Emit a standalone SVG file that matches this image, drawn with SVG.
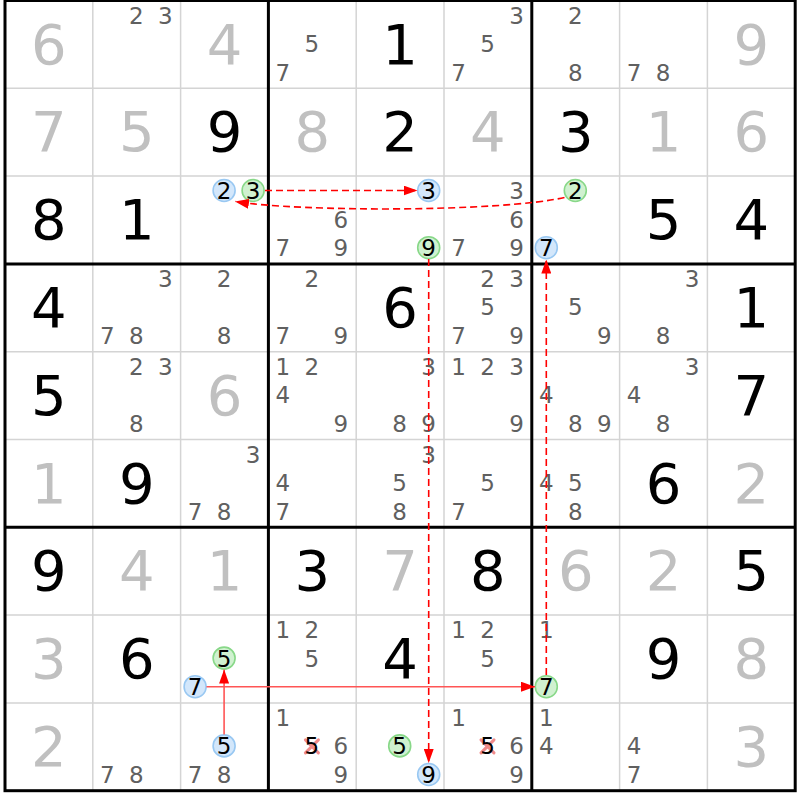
<svg xmlns="http://www.w3.org/2000/svg" width="800" height="800" viewBox="0 0 800 800">
<style>
text{font-family:"DejaVu Sans","Liberation Sans",sans-serif;text-anchor:middle}
.g{font-size:56px;fill:#c0c0c0}
.s{font-size:56px;fill:#000}
.c{font-size:23px;fill:#606060}
.k{font-size:23px;fill:#000}
.hb{fill:#d3e7fb;stroke:#99c8f2;stroke-width:1.6}
.hg{fill:#d0f1d0;stroke:#88d888;stroke-width:1.6}
.thin{stroke:#d4d4d4;stroke-width:1.5}
.thick{stroke:#000;stroke-width:3;fill:none}
.x{stroke:#f08a8a;stroke-width:3;stroke-linecap:round}
.dash{fill:none;stroke:#ff0000;stroke-width:1.6;stroke-dasharray:7 4}
.solid{fill:none;stroke:#ff5555;stroke-width:1.6}
</style>
<defs>
<marker id="ah" viewBox="0 0 14 10" refX="14" refY="5" markerWidth="14" markerHeight="10" markerUnits="userSpaceOnUse" orient="auto"><path d="M0,0 L14,5 L0,10 z" fill="#ff0000"/></marker>
</defs>
<rect x="0" y="0" width="800" height="800" fill="#fff"/>
<g id="grid">
<path class="thin" d="M92.8,0.5V790.7M180.6,0.5V790.7M356.2,0.5V790.7M444,0.5V790.7M619.6,0.5V790.7M707.4,0.5V790.7M5,88.3H795.2M5,176.1H795.2M5,351.7H795.2M5,439.5H795.2M5,615.1H795.2M5,702.9H795.2"/>
<path class="thick" d="M268.4,0.5V790.7M531.8,0.5V790.7M5,263.9H795.2M5,527.3H795.2"/>
<rect class="thick" x="5" y="0.5" width="790.2" height="790.2"/>
</g>
<g id="cells">
<!-- row 0 -->
<g id="r0c0" transform="translate(5,0.5)"><text class="g" x="43.9" y="63">6</text></g>
<g id="r0c1" transform="translate(92.8,0.5)"><text class="c" x="43.5" y="23">2</text><text class="c" x="72.5" y="23">3</text></g>
<g id="r0c2" transform="translate(180.6,0.5)"><text class="g" x="43.9" y="63">4</text></g>
<g id="r0c3" transform="translate(268.4,0.5)"><text class="c" x="43.5" y="51.6">5</text><text class="c" x="14.5" y="80.2">7</text></g>
<g id="r0c4" transform="translate(356.2,0.5)"><text class="s" x="43.9" y="63">1</text></g>
<g id="r0c5" transform="translate(444,0.5)"><text class="c" x="72.5" y="23">3</text><text class="c" x="43.5" y="51.6">5</text><text class="c" x="14.5" y="80.2">7</text></g>
<g id="r0c6" transform="translate(531.8,0.5)"><text class="c" x="43.5" y="23">2</text><text class="c" x="43.5" y="80.2">8</text></g>
<g id="r0c7" transform="translate(619.6,0.5)"><text class="c" x="14.5" y="80.2">7</text><text class="c" x="43.5" y="80.2">8</text></g>
<g id="r0c8" transform="translate(707.4,0.5)"><text class="g" x="43.9" y="63">9</text></g>
<!-- row 1 -->
<g id="r1c0" transform="translate(5,88.3)"><text class="g" x="43.9" y="63">7</text></g>
<g id="r1c1" transform="translate(92.8,88.3)"><text class="g" x="43.9" y="63">5</text></g>
<g id="r1c2" transform="translate(180.6,88.3)"><text class="s" x="43.9" y="63">9</text></g>
<g id="r1c3" transform="translate(268.4,88.3)"><text class="g" x="43.9" y="63">8</text></g>
<g id="r1c4" transform="translate(356.2,88.3)"><text class="s" x="43.9" y="63">2</text></g>
<g id="r1c5" transform="translate(444,88.3)"><text class="g" x="43.9" y="63">4</text></g>
<g id="r1c6" transform="translate(531.8,88.3)"><text class="s" x="43.9" y="63">3</text></g>
<g id="r1c7" transform="translate(619.6,88.3)"><text class="g" x="43.9" y="63">1</text></g>
<g id="r1c8" transform="translate(707.4,88.3)"><text class="g" x="43.9" y="63">6</text></g>
<!-- row 2 -->
<g id="r2c0" transform="translate(5,176.1)"><text class="s" x="43.9" y="63">8</text></g>
<g id="r2c1" transform="translate(92.8,176.1)"><text class="s" x="43.9" y="63">1</text></g>
<g id="r2c2" transform="translate(180.6,176.1)"><circle class="hb" cx="43.5" cy="14.4" r="11"/><text class="k" x="43.5" y="23">2</text><circle class="hg" cx="72.5" cy="14.4" r="11"/><text class="k" x="72.5" y="23">3</text></g>
<g id="r2c3" transform="translate(268.4,176.1)"><text class="c" x="72.5" y="51.6">6</text><text class="c" x="14.5" y="80.2">7</text><text class="c" x="72.5" y="80.2">9</text></g>
<g id="r2c4" transform="translate(356.2,176.1)"><circle class="hb" cx="72.5" cy="14.4" r="11"/><text class="k" x="72.5" y="23">3</text><circle class="hg" cx="72.5" cy="71.6" r="11"/><text class="k" x="72.5" y="80.2">9</text></g>
<g id="r2c5" transform="translate(444,176.1)"><text class="c" x="72.5" y="23">3</text><text class="c" x="72.5" y="51.6">6</text><text class="c" x="14.5" y="80.2">7</text><text class="c" x="72.5" y="80.2">9</text></g>
<g id="r2c6" transform="translate(531.8,176.1)"><circle class="hg" cx="43.5" cy="14.4" r="11"/><text class="k" x="43.5" y="23">2</text><circle class="hb" cx="14.5" cy="71.6" r="11"/><text class="k" x="14.5" y="80.2">7</text></g>
<g id="r2c7" transform="translate(619.6,176.1)"><text class="s" x="43.9" y="63">5</text></g>
<g id="r2c8" transform="translate(707.4,176.1)"><text class="s" x="43.9" y="63">4</text></g>
<!-- row 3 -->
<g id="r3c0" transform="translate(5,263.9)"><text class="s" x="43.9" y="63">4</text></g>
<g id="r3c1" transform="translate(92.8,263.9)"><text class="c" x="72.5" y="23">3</text><text class="c" x="14.5" y="80.2">7</text><text class="c" x="43.5" y="80.2">8</text></g>
<g id="r3c2" transform="translate(180.6,263.9)"><text class="c" x="43.5" y="23">2</text><text class="c" x="43.5" y="80.2">8</text></g>
<g id="r3c3" transform="translate(268.4,263.9)"><text class="c" x="43.5" y="23">2</text><text class="c" x="14.5" y="80.2">7</text><text class="c" x="72.5" y="80.2">9</text></g>
<g id="r3c4" transform="translate(356.2,263.9)"><text class="s" x="43.9" y="63">6</text></g>
<g id="r3c5" transform="translate(444,263.9)"><text class="c" x="43.5" y="23">2</text><text class="c" x="72.5" y="23">3</text><text class="c" x="43.5" y="51.6">5</text><text class="c" x="14.5" y="80.2">7</text><text class="c" x="72.5" y="80.2">9</text></g>
<g id="r3c6" transform="translate(531.8,263.9)"><text class="c" x="43.5" y="51.6">5</text><text class="c" x="72.5" y="80.2">9</text></g>
<g id="r3c7" transform="translate(619.6,263.9)"><text class="c" x="72.5" y="23">3</text><text class="c" x="43.5" y="80.2">8</text></g>
<g id="r3c8" transform="translate(707.4,263.9)"><text class="s" x="43.9" y="63">1</text></g>
<!-- row 4 -->
<g id="r4c0" transform="translate(5,351.7)"><text class="s" x="43.9" y="63">5</text></g>
<g id="r4c1" transform="translate(92.8,351.7)"><text class="c" x="43.5" y="23">2</text><text class="c" x="72.5" y="23">3</text><text class="c" x="43.5" y="80.2">8</text></g>
<g id="r4c2" transform="translate(180.6,351.7)"><text class="g" x="43.9" y="63">6</text></g>
<g id="r4c3" transform="translate(268.4,351.7)"><text class="c" x="14.5" y="23">1</text><text class="c" x="43.5" y="23">2</text><text class="c" x="14.5" y="51.6">4</text><text class="c" x="72.5" y="80.2">9</text></g>
<g id="r4c4" transform="translate(356.2,351.7)"><text class="c" x="72.5" y="23">3</text><text class="c" x="43.5" y="80.2">8</text><text class="c" x="72.5" y="80.2">9</text></g>
<g id="r4c5" transform="translate(444,351.7)"><text class="c" x="14.5" y="23">1</text><text class="c" x="43.5" y="23">2</text><text class="c" x="72.5" y="23">3</text><text class="c" x="72.5" y="80.2">9</text></g>
<g id="r4c6" transform="translate(531.8,351.7)"><text class="c" x="14.5" y="51.6">4</text><text class="c" x="43.5" y="80.2">8</text><text class="c" x="72.5" y="80.2">9</text></g>
<g id="r4c7" transform="translate(619.6,351.7)"><text class="c" x="72.5" y="23">3</text><text class="c" x="14.5" y="51.6">4</text><text class="c" x="43.5" y="80.2">8</text></g>
<g id="r4c8" transform="translate(707.4,351.7)"><text class="s" x="43.9" y="63">7</text></g>
<!-- row 5 -->
<g id="r5c0" transform="translate(5,439.5)"><text class="g" x="43.9" y="63">1</text></g>
<g id="r5c1" transform="translate(92.8,439.5)"><text class="s" x="43.9" y="63">9</text></g>
<g id="r5c2" transform="translate(180.6,439.5)"><text class="c" x="72.5" y="23">3</text><text class="c" x="14.5" y="80.2">7</text><text class="c" x="43.5" y="80.2">8</text></g>
<g id="r5c3" transform="translate(268.4,439.5)"><text class="c" x="14.5" y="51.6">4</text><text class="c" x="14.5" y="80.2">7</text></g>
<g id="r5c4" transform="translate(356.2,439.5)"><text class="c" x="72.5" y="23">3</text><text class="c" x="43.5" y="51.6">5</text><text class="c" x="43.5" y="80.2">8</text></g>
<g id="r5c5" transform="translate(444,439.5)"><text class="c" x="43.5" y="51.6">5</text><text class="c" x="14.5" y="80.2">7</text></g>
<g id="r5c6" transform="translate(531.8,439.5)"><text class="c" x="14.5" y="51.6">4</text><text class="c" x="43.5" y="51.6">5</text><text class="c" x="43.5" y="80.2">8</text></g>
<g id="r5c7" transform="translate(619.6,439.5)"><text class="s" x="43.9" y="63">6</text></g>
<g id="r5c8" transform="translate(707.4,439.5)"><text class="g" x="43.9" y="63">2</text></g>
<!-- row 6 -->
<g id="r6c0" transform="translate(5,527.3)"><text class="s" x="43.9" y="63">9</text></g>
<g id="r6c1" transform="translate(92.8,527.3)"><text class="g" x="43.9" y="63">4</text></g>
<g id="r6c2" transform="translate(180.6,527.3)"><text class="g" x="43.9" y="63">1</text></g>
<g id="r6c3" transform="translate(268.4,527.3)"><text class="s" x="43.9" y="63">3</text></g>
<g id="r6c4" transform="translate(356.2,527.3)"><text class="g" x="43.9" y="63">7</text></g>
<g id="r6c5" transform="translate(444,527.3)"><text class="s" x="43.9" y="63">8</text></g>
<g id="r6c6" transform="translate(531.8,527.3)"><text class="g" x="43.9" y="63">6</text></g>
<g id="r6c7" transform="translate(619.6,527.3)"><text class="g" x="43.9" y="63">2</text></g>
<g id="r6c8" transform="translate(707.4,527.3)"><text class="s" x="43.9" y="63">5</text></g>
<!-- row 7 -->
<g id="r7c0" transform="translate(5,615.1)"><text class="g" x="43.9" y="63">3</text></g>
<g id="r7c1" transform="translate(92.8,615.1)"><text class="s" x="43.9" y="63">6</text></g>
<g id="r7c2" transform="translate(180.6,615.1)"><circle class="hg" cx="43.5" cy="43" r="11"/><text class="k" x="43.5" y="51.6">5</text><circle class="hb" cx="14.5" cy="71.6" r="11"/><text class="k" x="14.5" y="80.2">7</text></g>
<g id="r7c3" transform="translate(268.4,615.1)"><text class="c" x="14.5" y="23">1</text><text class="c" x="43.5" y="23">2</text><text class="c" x="43.5" y="51.6">5</text></g>
<g id="r7c4" transform="translate(356.2,615.1)"><text class="s" x="43.9" y="63">4</text></g>
<g id="r7c5" transform="translate(444,615.1)"><text class="c" x="14.5" y="23">1</text><text class="c" x="43.5" y="23">2</text><text class="c" x="43.5" y="51.6">5</text></g>
<g id="r7c6" transform="translate(531.8,615.1)"><text class="c" x="14.5" y="23">1</text><circle class="hg" cx="14.5" cy="71.6" r="11"/><text class="k" x="14.5" y="80.2">7</text></g>
<g id="r7c7" transform="translate(619.6,615.1)"><text class="s" x="43.9" y="63">9</text></g>
<g id="r7c8" transform="translate(707.4,615.1)"><text class="g" x="43.9" y="63">8</text></g>
<!-- row 8 -->
<g id="r8c0" transform="translate(5,702.9)"><text class="g" x="43.9" y="63">2</text></g>
<g id="r8c1" transform="translate(92.8,702.9)"><text class="c" x="14.5" y="80.2">7</text><text class="c" x="43.5" y="80.2">8</text></g>
<g id="r8c2" transform="translate(180.6,702.9)"><circle class="hb" cx="43.5" cy="43" r="11"/><text class="k" x="43.5" y="51.6">5</text><text class="c" x="14.5" y="80.2">7</text><text class="c" x="43.5" y="80.2">8</text></g>
<g id="r8c3" transform="translate(268.4,702.9)"><text class="c" x="14.5" y="23">1</text><path class="x" d="M37,37L50,50M50,37L37,50"/><text class="k" x="43.5" y="51.6">5</text><text class="c" x="72.5" y="51.6">6</text><text class="c" x="72.5" y="80.2">9</text></g>
<g id="r8c4" transform="translate(356.2,702.9)"><circle class="hg" cx="43.5" cy="43" r="11"/><text class="k" x="43.5" y="51.6">5</text><circle class="hb" cx="72.5" cy="71.6" r="11"/><text class="k" x="72.5" y="80.2">9</text></g>
<g id="r8c5" transform="translate(444,702.9)"><text class="c" x="14.5" y="23">1</text><path class="x" d="M37,37L50,50M50,37L37,50"/><text class="k" x="43.5" y="51.6">5</text><text class="c" x="72.5" y="51.6">6</text><text class="c" x="72.5" y="80.2">9</text></g>
<g id="r8c6" transform="translate(531.8,702.9)"><text class="c" x="14.5" y="23">1</text><text class="c" x="14.5" y="51.6">4</text></g>
<g id="r8c7" transform="translate(619.6,702.9)"><text class="c" x="14.5" y="51.6">4</text><text class="c" x="14.5" y="80.2">7</text></g>
<g id="r8c8" transform="translate(707.4,702.9)"><text class="g" x="43.9" y="63">3</text></g>
</g>
<g id="connectors">
<path class="dash" d="M265,190.5H417.5" marker-end="url(#ah)"/>
<path class="dash" d="M564.5,197.5C500,212 300,212 235,201.5" marker-end="url(#ah)"/>
<path class="dash" d="M428.7,259V763" marker-end="url(#ah)"/>
<path class="dash" d="M546.3,675V259.5" marker-end="url(#ah)"/>
<path class="solid" d="M206.5,686.7H535" marker-end="url(#ah)"/>
<path class="solid" d="M224.1,734.5V669.5" marker-end="url(#ah)"/>
</g>
</svg>
